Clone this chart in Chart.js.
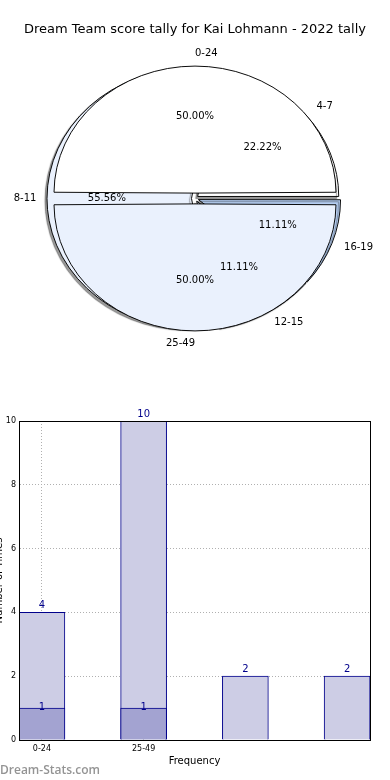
<!DOCTYPE html>
<html>
<head>
<meta charset="utf-8">
<script src="https://cdn.jsdelivr.net/npm/chart.js@4.4.1/dist/chart.umd.min.js"></script>
<style>
  html, body { margin: 0; padding: 0; background: #fff; overflow: hidden; }
  body { width: 390px; height: 780px; position: relative; }
  canvas { position: absolute; }
  #title { position: absolute; top: 21px; left: 0; width: 390px; text-align: center; font: 13px "DejaVu Sans", sans-serif; color: #000; }
  #mark { position: absolute; left: 0; top: 761px; font: 600 12px "Open Sans", sans-serif; color: #949494; }
</style>
</head>
<body>
<canvas id="pieBack" width="390" height="397" style="left:0;top:0"></canvas>
<canvas id="pieFront" width="390" height="397" style="left:0;top:0"></canvas>
<div id="title">Dream Team score tally for Kai Lohmann - 2022 tally</div>
<canvas id="barChart" width="401" height="380" style="left:-11px;top:400px"></canvas>
<div id="mark">Dream-Stats.com</div>
<script>
// pie data
const frontLabels = ['0-24', '25-49'];
const frontCounts = [1, 1];
const backLabels = ['4-7', '8-11', '12-15', '16-19'];
const backCounts = [2, 5, 1, 1];

// bar data
const barSlots = [0, 1, 2, 3];
const tallyCounts = [4, 10, 2, 2];
const lowCounts = [1, 1];
const xTickLabels = ['0-24', '25-49'];

const pieR = 141;
const squishY = 127 / 141;
const navy = '#00008b';

//squash the pie into the flat ellipse of the original, optional shadow
const squish = {
    id: 'squish',
    beforeDatasetsDraw(chart, args, opts) {
        const { ctx, chartArea } = chart;
        const cy = (chartArea.top + chartArea.bottom) / 2;
        ctx.save();
        ctx.translate(0, cy);
        ctx.scale(1, squishY);
        ctx.translate(0, -cy);
        if (opts.shadow) {
            ctx.shadowColor = 'rgba(0,0,0,0.4)';
            ctx.shadowOffsetX = -2;
            ctx.shadowOffsetY = 2;
            ctx.shadowBlur = 1;
        }
    },
    afterDatasetsDraw(chart) {
        chart.ctx.restore();
    }
};

function drawPieText(ctx, chart, labels, counts) {
    const total = counts.reduce((a, b) => a + b, 0);
    // chart.js moves an arc by a quarter of its offset
    const off = chart.data.datasets[0].offset / 4;
    chart.getDatasetMeta(0).data.forEach((arc, i) => {
        const { x, y, startAngle, endAngle } = arc.getProps(['x', 'y', 'startAngle', 'endAngle']);
        const mid = (startAngle + endAngle) / 2;
        const c = Math.cos(mid), s = Math.sin(mid);
        const at = d => [x + c * (pieR * d + off), y + s * (pieR * d + off) * squishY];
        let align;
        if (c > 1e-9) align = 'left';
        else if (c < -1e-9) align = 'right';
        else align = s < 0 ? 'left' : 'right';
        const [lx, ly] = at(1.1);
        ctx.textAlign = align;
        ctx.fillText(labels[i], lx, ly);
        const [px, py] = at(0.6);
        ctx.textAlign = 'center';
        ctx.fillText((counts[i] / total * 100).toFixed(2) + '%', px, py);
    });
}

// matplotlib runs counter clockwise, chart.js clockwise, so flip the back pie
const backLabelsCw = backLabels.slice().reverse();
const backCountsCw = backCounts.slice().reverse();
const backColors = ['#ffffff', '#eaf1fd', '#d7e5fa', '#b7d0f4'].reverse();

const pieBack = new Chart(document.getElementById('pieBack'), {
    type: 'pie',
    data: {
        labels: backLabelsCw,
        datasets: [{
            data: backCountsCw,
            backgroundColor: backColors,
            borderColor: '#000',
            borderWidth: 1,
            offset: 14
        }]
    },
    options: {
        responsive: false,
        animation: false,
        rotation: 90,
        radius: 141,
        plugins: {
            legend: { display: false },
            tooltip: { enabled: false },
            squish: { shadow: true }
        }
    },
    plugins: [squish]
});

new Chart(document.getElementById('pieFront'), {
    type: 'pie',
    data: {
        labels: frontLabels,
        datasets: [{
            data: frontCounts,
            backgroundColor: ['#ffffff', '#eaf1fd'],
            borderColor: '#000',
            borderWidth: 1,
            offset: 24
        }]
    },
    options: {
        responsive: false,
        animation: false,
        rotation: -90,
        // half circles get their offset added to the radius too
        radius: 135,
        plugins: {
            legend: { display: false },
            tooltip: { enabled: false },
            squish: { shadow: false }
        }
    },
    plugins: [squish, {
        id: 'pieText',
        afterDraw(chart) {
            const ctx = chart.ctx;
            ctx.save();
            ctx.font = '10px "DejaVu Sans", sans-serif';
            ctx.fillStyle = '#000';
            ctx.textBaseline = 'middle';
            drawPieText(ctx, chart, frontLabels, frontCounts);
            drawPieText(ctx, pieBack, backLabelsCw, backCountsCw);
            ctx.restore();
        }
    }]
});

//value labels on the bars and the box round the plot
const barText = {
    id: 'barText',
    afterDatasetsDraw(chart) {
        const ctx = chart.ctx;
        ctx.save();
        ctx.font = '10px "DejaVu Sans", sans-serif';
        ctx.fillStyle = navy;
        ctx.textAlign = 'center';
        chart.getDatasetMeta(1).data.forEach((bar, i) => {
            ctx.textBaseline = 'bottom';
            ctx.fillText(String(tallyCounts[i]), bar.x, bar.y - 2);
        });
        chart.getDatasetMeta(0).data.forEach((bar, i) => {
            ctx.textBaseline = 'middle';
            ctx.fillText(String(lowCounts[i]), bar.x, bar.y - 1);
        });
        ctx.restore();
    },
    afterDraw(chart) {
        const { ctx, chartArea: a } = chart;
        ctx.save();
        ctx.strokeStyle = '#000';
        ctx.lineWidth = 1;
        ctx.strokeRect(Math.round(a.left) + 0.5, Math.round(a.top) + 0.5, Math.round(a.width), Math.round(a.height));
        ctx.restore();
    }
};

const tickFont = { family: '"DejaVu Sans", sans-serif', size: 8 };

new Chart(document.getElementById('barChart'), {
    type: 'bar',
    data: {
        datasets: [{
            data: lowCounts.map((v, i) => ({ x: barSlots[i], y: v })),
            backgroundColor: '#a3a3d1',
            borderColor: navy,
            borderWidth: 1,
            barThickness: 46,
            grouped: false,
            order: 0
        }, {
            data: tallyCounts.map((v, i) => ({ x: barSlots[i], y: v })),
            backgroundColor: '#cdcde5',
            borderColor: navy,
            borderWidth: 1,
            barThickness: 46,
            grouped: false,
            order: 1
        }]
    },
    options: {
        responsive: false,
        animation: false,
        layout: { padding: { top: 21, right: 20, bottom: 10, left: 0 } },
        plugins: {
            legend: { display: false },
            tooltip: { enabled: false }
        },
        scales: {
            x: {
                type: 'linear',
                min: -0.225,
                max: 3.225,
                offset: false,
                afterBuildTicks: s => { s.ticks = xTickLabels.map((t, i) => ({ value: barSlots[i] })); },
                afterFit: s => { s.height = 30; },
                ticks: {
                    callback: v => xTickLabels[v],
                    font: tickFont,
                    color: '#000',
                    padding: 4,
                    maxRotation: 0,
                    autoSkip: false
                },
                grid: { color: '#b0b0b0', drawTicks: false, offset: false },
                border: { color: '#000', dash: [1, 2] },
                title: {
                    display: true,
                    text: 'Frequency',
                    color: '#000',
                    font: { family: '"DejaVu Sans", sans-serif', size: 10 },
                    padding: { top: 0, bottom: 3 }
                }
            },
            y: {
                min: 0,
                max: 10,
                afterFit: s => { s.width = 30; },
                ticks: { stepSize: 2, font: tickFont, color: '#000', padding: 3 },
                grid: { color: '#b0b0b0', drawTicks: false },
                border: { color: '#000', dash: [1, 2] },
                title: {
                    display: true,
                    text: 'Number of Times',
                    color: '#000',
                    font: { family: '"DejaVu Sans", sans-serif', size: 10 },
                    padding: { top: 4, bottom: 0 }
                }
            }
        }
    },
    plugins: [barText]
});
</script>
</body>
</html>
